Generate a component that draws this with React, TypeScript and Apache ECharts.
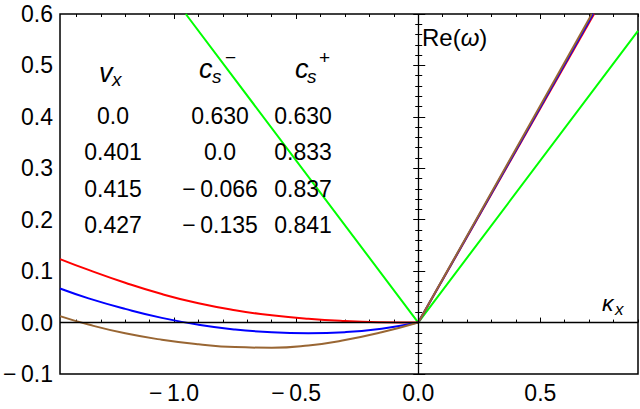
import React, { useEffect, useRef } from "react";
import * as echarts from "echarts";

// κ_x sample points on the negative side and the read values of Re(ω)
const kNeg = [-1.467, -1.35, -1.2, -1.05, -0.9, -0.75, -0.6, -0.45, -0.3, -0.15, 0];
const redNeg = [0.1235, 0.1024, 0.0774, 0.0554, 0.0374, 0.0239, 0.0141, 0.0073, 0.003, 0.0007, 0];
const blueNeg = [0.0662, 0.0471, 0.0266, 0.0091, -0.0042, -0.0135, -0.019, -0.0208, -0.0186, -0.0118, 0];
const brownNeg = [0.0126, -0.0039, -0.0209, -0.0334, -0.0422, -0.0477, -0.049, -0.0445, -0.034, -0.019, 0];

// positive side: straight lines from origin, point where they leave the top
const redPosK = [0, 0.72];
const redPos = [0, 0.6];
const bluePosK = [0, 0.716];
const bluePos = [0, 0.6];
const brownPosK = [0, 0.711];
const brownPos = [0, 0.6];

// green (v_x = 0)
const greenK = [-0.952, 0, 0.9];
const greenW = [0.6, 0, 0.567];

// ticks
const xMajor = [-1, -0.5, 0, 0.5];
const xMinor = [-1.4, -1.3, -1.2, -1.1, -0.9, -0.8, -0.7, -0.6, -0.4, -0.3, -0.2, -0.1, 0.1, 0.2, 0.3, 0.4, 0.6, 0.7, 0.8, 0.9];

// table
const colVx = ["0.0", "0.401", "0.415", "0.427"];
const colCsMinus = ["0.630", "0.0", "\u2212\u20090.066", "\u2212\u20090.135"];
const colCsPlus = ["0.630", "0.833", "0.837", "0.841"];

const FONT = "'Liberation Sans', Arial, sans-serif";

const fmt = (v: number) => {
  const r = Math.round(v * 10) / 10;
  if (r < 0) return "\u2212\u2009" + Math.abs(r).toFixed(1);
  return Math.abs(r).toFixed(1);
};

export default function App() {
  const ref = useRef<HTMLDivElement>(null);
  useEffect(() => {
    if (!ref.current) return;
    const chart = echarts.init(ref.current, undefined, { renderer: "svg" });
    const pair = (ks: number[], vs: number[]) => ks.map((k, i) => [k, vs[i]]);
    const xmin = -1.467;
    const xmax = 0.9;
    const baseX = {
      type: "value" as const,
      min: xmin,
      max: xmax,
      axisLine: { show: false },
      splitLine: { show: false },
    };
    const rows = [116, 151.5, 188.5, 225];
    const cols = [113, 220, 303];
    const tableTexts: any[] = [];
    [colVx, colCsMinus, colCsPlus].forEach((col, ci) => {
      col.forEach((t, ri) => {
        tableTexts.push({
          type: "text",
          x: cols[ci],
          y: rows[ri],
          style: { text: t, fontSize: 23, fontFamily: FONT, fill: "#000", align: "center", verticalAlign: "middle" },
          z: 10,
        });
      });
    });
    const it = (text: string, x: number, y: number, size: number, italic = true) => ({
      type: "text",
      x,
      y,
      style: {
        text,
        fontSize: size,
        fontFamily: FONT,
        fontStyle: italic ? "italic" : "normal",
        fill: "#000",
        align: "left",
        verticalAlign: "middle",
      },
      z: 10,
    });
    const line = (data: number[][], color: string, smooth: boolean | number, z = 3) => ({
      type: "line",
      data,
      smooth,
      showSymbol: false,
      symbol: "none",
      lineStyle: { color, width: 2 },
      z,
      silent: true,
    });
    chart.setOption({
      animation: false,
      grid: {
        left: 54,
        right: 2,
        top: 14,
        bottom: 35,
        show: true,
        borderColor: "#000",
        borderWidth: 1.5,
        backgroundColor: "transparent",
      },
      xAxis: [
        {
          ...baseX,
          position: "bottom",
          axisTick: { show: true, inside: true, length: 5, customValues: xMajor, lineStyle: { color: "#000", width: 1 } },
          axisLabel: {
            show: true,
            customValues: xMajor,
            formatter: (v: number) => fmt(v),
            fontSize: 23,
            fontFamily: FONT,
            color: "#000",
            margin: 7,
          },
        },
        {
          ...baseX,
          position: "bottom",
          axisTick: { show: true, inside: true, length: 3, customValues: xMinor, lineStyle: { color: "#000", width: 1 } },
          axisLabel: { show: false },
        },
        {
          ...baseX,
          position: "top",
          axisTick: { show: true, inside: true, length: 5, customValues: xMajor, lineStyle: { color: "#000", width: 1 } },
          axisLabel: { show: false },
        },
        {
          ...baseX,
          position: "top",
          axisTick: { show: true, inside: true, length: 3, customValues: xMinor, lineStyle: { color: "#000", width: 1 } },
          axisLabel: { show: false },
        },
      ],
      yAxis: [
        {
          type: "value",
          position: "left",
          min: -0.1,
          max: 0.6,
          interval: 0.1,
          axisLine: { show: false },
          splitLine: { show: false },
          axisTick: { show: true, inside: true, length: 7, lineStyle: { color: "#000", width: 1 } },
          minorTick: { show: true, splitNumber: 5, length: 4, lineStyle: { color: "#000", width: 1 } },
          axisLabel: { formatter: (v: number) => fmt(v), fontSize: 23, fontFamily: FONT, color: "#000", margin: 7 },
        },
        {
          type: "value",
          position: "right",
          min: -0.1,
          max: 0.6,
          interval: 0.1,
          axisLine: { show: false },
          splitLine: { show: false },
          axisTick: { show: true, inside: true, length: 5, lineStyle: { color: "#000", width: 1 } },
          minorTick: { show: true, splitNumber: 5, length: 3, lineStyle: { color: "#000", width: 1 } },
          axisLabel: { show: false },
        },
      ],
      series: [
        {
          type: "line",
          data: [],
          z: 1,
          silent: true,
          markLine: {
            silent: true,
            symbol: "none",
            label: { show: false },
            lineStyle: { color: "#000", width: 1.3, type: "solid" },
            data: [{ yAxis: 0 }, { xAxis: 0 }],
          },
        },
        line(pair(greenK, greenW), "#00ff00", false, 2),
        line(pair(kNeg, redNeg), "#ff0000", 0.5),
        line(pair(kNeg, blueNeg), "#0000ff", 0.5),
        line(pair(kNeg, brownNeg), "#996633", 0.5),
        line(pair(redPosK, redPos), "#ff0000", false),
        line(pair(bluePosK, bluePos), "#0000ff", false),
        line(pair(brownPosK, brownPos), "#996633", false),
      ],
      graphic: [
        ...tableTexts,
        // header v_x
        it("v", 99, 73, 27),
        it("x", 112, 79, 19),
        // header c_s^-
        it("c", 199, 69, 27),
        it("s", 212, 76, 19),
        it("\u2212", 225, 57, 19, false),
        // header c_s^+
        it("c", 295, 69, 27),
        it("s", 307, 76, 19),
        it("+", 319, 57, 19, false),
        // Re(ω)
        {
          type: "text",
          x: 422,
          y: 37,
          style: {
            text: "{a|Re(}{b|ω}{a|)}",
            rich: {
              a: { fontSize: 24, fontFamily: FONT, fill: "#000" },
              b: { fontSize: 24, fontFamily: FONT, fontStyle: "italic", fill: "#000" },
            },
            align: "left",
            verticalAlign: "middle",
          },
          z: 10,
        },
        // κ_x
        it("κ", 602, 303, 23),
        it("x", 615, 309, 17),
      ],
    });
    return () => chart.dispose();
  }, []);
  return <div ref={ref} style={{ position: "absolute", left: 0, top: 0, width: 640, height: 409 }} />;
}
